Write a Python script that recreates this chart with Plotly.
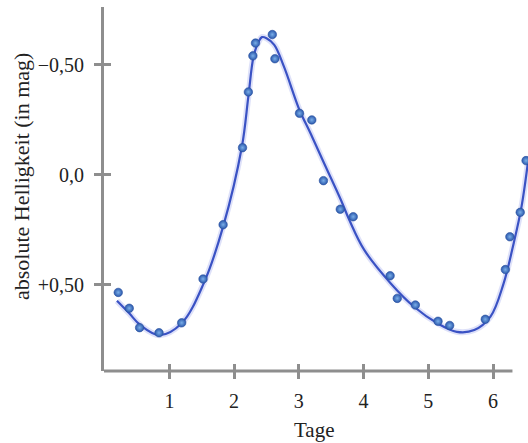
import plotly.graph_objects as go

# Observed points (days, absolute magnitude)
obs_days = [0.21, 0.38, 0.54, 0.84, 1.19, 1.52, 1.83, 2.13, 2.22, 2.29, 2.33,
            2.59, 2.63, 3.01, 3.20, 3.38, 3.64, 3.84, 4.41, 4.52, 4.80, 5.15,
            5.33, 5.88, 6.19, 6.26, 6.42, 6.51]
obs_mag = [0.535, 0.607, 0.695, 0.718, 0.673, 0.474, 0.227, -0.123, -0.376,
           -0.540, -0.598, -0.637, -0.527, -0.279, -0.249, 0.027, 0.157, 0.191,
           0.459, 0.562, 0.592, 0.666, 0.685, 0.657, 0.431, 0.282, 0.171, -0.064]

# Fitted light curve
curve_days = [0.19, 0.38, 0.55, 0.85, 1.19, 1.53, 1.83, 2.12, 2.22, 2.30, 2.38,
              2.43, 2.50, 2.62, 2.77, 3.01, 3.18, 3.39, 3.65, 3.78, 4.01, 4.42,
              4.78, 5.14, 5.44, 5.71, 5.96, 6.16, 6.32, 6.44, 6.55]
curve_mag = [0.573, 0.630, 0.683, 0.729, 0.675, 0.494, 0.236, -0.127, -0.355,
             -0.536, -0.605, -0.625, -0.620, -0.590, -0.491, -0.294, -0.188,
             -0.052, 0.115, 0.206, 0.342, 0.494, 0.600, 0.675, 0.714, 0.706,
             0.645, 0.497, 0.310, 0.145, -0.082]

x_ticks = [1, 2, 3, 4, 5, 6]
x_ticklabels = ["1", "2", "3", "4", "5", "6"]
y_ticks = [-0.5, 0.0, 0.5]
y_ticklabels = ["\u22120,50", "0,0", "+0,50"]

x_title = "Tage"
y_title = "absolute Helligkeit (in mag)"

X_RANGE = [-0.01, 6.54]
Y_RANGE = [0.892, -0.762]
AXIS_COLOR = "#8e8e8e"
FONT = "Liberation Serif"

fig = go.Figure()

# glow under the curve
fig.add_trace(go.Scatter(x=curve_days, y=curve_mag, mode="lines",
                         line=dict(color="rgba(70,90,220,0.18)", width=6,
                                   shape="spline", smoothing=1),
                         hoverinfo="skip", showlegend=False))
fig.add_trace(go.Scatter(x=curve_days, y=curve_mag, mode="lines",
                         line=dict(color="#3a52c4", width=2.2,
                                   shape="spline", smoothing=1),
                         showlegend=False))
fig.add_trace(go.Scatter(x=obs_days, y=obs_mag, mode="markers",
                         marker=dict(size=8.5, color="#2a58ac",
                                     gradient=dict(type="radial", color="#7aaee8"),
                                     line=dict(color="#2a50a0", width=0.6)),
                         showlegend=False))
# invisible trace for the overlay axes (inside ticks)
fig.add_trace(go.Scatter(x=[X_RANGE[0]], y=[Y_RANGE[0]], xaxis="x2", yaxis="y2",
                         mode="markers", marker=dict(opacity=0),
                         hoverinfo="skip", showlegend=False))

tickfont = dict(family=FONT, size=20, color="#222")
fig.update_layout(
    width=528, height=443,
    margin=dict(l=104, r=0, t=7, b=72),
    paper_bgcolor="white", plot_bgcolor="white",
    xaxis=dict(range=X_RANGE, tickvals=x_ticks, ticktext=x_ticklabels,
               ticks="outside", ticklen=7, tickwidth=3, tickcolor=AXIS_COLOR,
               showgrid=False, zeroline=False, showline=False,
               tickfont=tickfont, ticklabelstandoff=5),
    yaxis=dict(range=Y_RANGE, tickvals=y_ticks, ticktext=y_ticklabels,
               ticks="outside", ticklen=7, tickwidth=3, tickcolor=AXIS_COLOR,
               showgrid=False, zeroline=False, showline=True,
               linecolor=AXIS_COLOR, linewidth=3,
               tickfont=tickfont, ticklabelstandoff=6),
    xaxis2=dict(range=X_RANGE, tickvals=x_ticks, overlaying="x", anchor="y2",
                side="bottom", ticks="inside", ticklen=7, tickwidth=3,
                tickcolor=AXIS_COLOR, showticklabels=False, showgrid=False,
                zeroline=False, showline=False),
    yaxis2=dict(range=Y_RANGE, tickvals=y_ticks, overlaying="y", anchor="x2",
                side="left", ticks="inside", ticklen=7, tickwidth=3,
                tickcolor=AXIS_COLOR, showticklabels=False, showgrid=False,
                zeroline=False, showline=False),
    shapes=[dict(type="line", xref="x", yref="paper", x0=X_RANGE[0], x1=6.3,
                 y0=0, y1=0, line=dict(color=AXIS_COLOR, width=3), layer="below")],
    annotations=[
        dict(text=x_title, xref="paper", yref="paper", x=(314.7 - 104) / 424,
             y=-(430 - 371) / 364, showarrow=False, xanchor="center",
             yanchor="middle", font=dict(family=FONT, size=21, color="#222")),
        dict(text=y_title, xref="paper", yref="paper", x=-(104 - 21) / 424,
             y=(371 - 177) / 364, showarrow=False, textangle=-90,
             xanchor="center", yanchor="middle",
             font=dict(family=FONT, size=22, color="#222")),
    ],
)

fig.write_html("out.html", config={"displayModeBar": False},
               post_script="document.body.style.margin='0';document.body.style.overflow='hidden';")
